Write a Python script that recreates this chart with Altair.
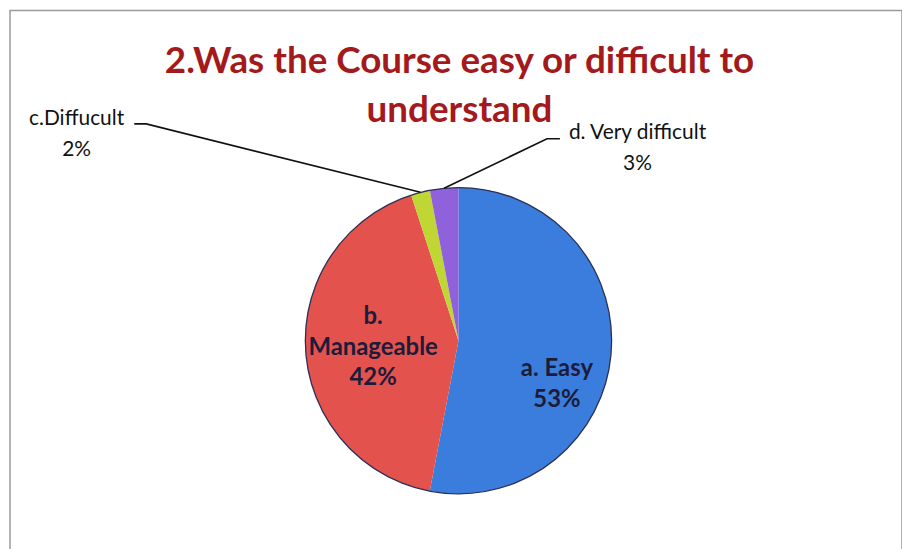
import math
import altair as alt
import pandas as pd

# ---- data ----
categories = ["a. Easy", "b. Manageable", "c.Diffucult", "d. Very difficult"]
values = [53, 42, 2, 3]
pct_text = ["53%", "42%", "2%", "3%"]
label_lines = [["a. Easy", "53%"], ["b.", "Manageable", "42%"],
               ["c.Diffucult", "2%"], ["d. Very difficult", "3%"]]
colors = ["#3b7ddc", "#e4524d", "#bfd634", "#8f62dc"]
title_lines = ["2.Was the Course easy or difficult to", "understand"]

# ---- layout (pixels in the view) ----
W, H = 897, 545
CX, CY, R = 451, 332, 154
inside = {"a. Easy": (104, -4.5, 19), "b. Manageable": (86, 0, -29.4)}      # radius, dx, dy (first line)
outside = {"c.Diffucult": (-345.7, -73.8), "d. Very difficult": (194.5, -55.7)}  # offset from slice edge
leader = {"c.Diffucult": [(-275.7, -68.8), (-287.7, -68.8)],
          "d. Very difficult": [(103.5, -49.7), (116.5, -49.7)]}

df = pd.DataFrame({"cat": categories, "value": values, "order": range(len(values))})

total = sum(values)
mid = []
acc = 0
for v in values:
    mid.append((acc + v / 2) / total * 2 * math.pi)
    acc += v

def polar(angle, r):
    return CX + r * math.sin(angle), CY - r * math.cos(angle)

in_rows, out_rows, line_rows = [], [], []
for i, c in enumerate(categories):
    if c in inside:
        r, dx, dy = inside[c]
        x, y = polar(mid[i], r)
        in_rows.append({"cat": c, "lines": label_lines[i], "x": x + dx, "y": y + dy})
    else:
        ex, ey = polar(mid[i], R)
        ox, oy = outside[c]
        out_rows.append({"cat": c, "lines": label_lines[i], "x": ex + ox, "y": ey + oy})
        pts = [(ex, ey)] + [(ex + a, ey + b) for a, b in leader[c]]
        for k, (px, py) in enumerate(pts):
            line_rows.append({"cat": c, "ord": k, "x": px, "y": py})

in_df = pd.DataFrame(in_rows)
out_df = pd.DataFrame(out_rows)
line_df = pd.DataFrame(line_rows)

pie = alt.Chart(df).mark_arc(outerRadius=R, stroke=None).encode(
    theta=alt.Theta("value:Q", stack=True),
    color=alt.Color("cat:N", scale=alt.Scale(domain=categories, range=colors), legend=None),
    order=alt.Order("order:Q"),
    x=alt.value(CX),
    y=alt.value(CY),
)

outline = alt.Chart(pd.DataFrame({"k": [0]})).mark_point(
    shape="circle", filled=False, size=(2 * R) ** 2, stroke="#2c3056",
    strokeWidth=1.3, opacity=1,
).encode(x=alt.value(CX), y=alt.value(CY))

leaders = alt.Chart(line_df).mark_line(color="#111111", strokeWidth=1.6).encode(
    x=alt.X("x:Q", scale=None, axis=None),
    y=alt.Y("y:Q", scale=None, axis=None),
    detail="cat:N",
    order="ord:Q",
)

inner_text = alt.Chart(in_df).mark_text(
    font="Lato", fontSize=24, fontWeight="bold", color="#1c1c3a",
    baseline="middle", align="center", lineHeight=31,
).encode(
    x=alt.X("x:Q", scale=None, axis=None),
    y=alt.Y("y:Q", scale=None, axis=None),
    text="lines:N",
)

outer_text = alt.Chart(out_df).mark_text(
    font="Lato", fontSize=21, color="#111111",
    baseline="middle", align="center", lineHeight=31,
).encode(
    x=alt.X("x:Q", scale=None, axis=None),
    y=alt.Y("y:Q", scale=None, axis=None),
    text="lines:N",
)

title = alt.Chart(pd.DataFrame({"t": [title_lines]})).mark_text(
    font="Lato", fontSize=37, fontWeight="bold", color="#a3191c",
    baseline="alphabetic", align="center", lineHeight=49,
).encode(x=alt.value(452), y=alt.value(63), text="t:N")

chart = alt.layer(pie, outline, leaders, inner_text, outer_text, title).properties(
    width=W, height=H, autosize="none",
    padding={"left": 2, "top": 1, "right": 0, "bottom": 0},
    background="white",
).configure_view(stroke="#9a9a9a", strokeWidth=1.5)

chart.save("out.html", embed_options={"renderer": "svg", "actions": False})
